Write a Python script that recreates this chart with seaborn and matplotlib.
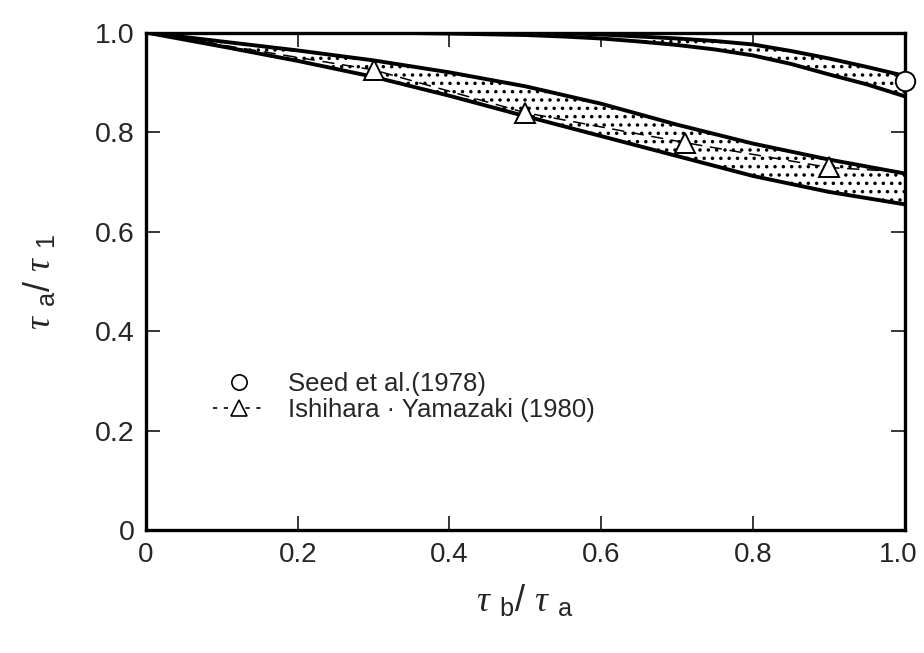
import numpy as np
import pandas as pd
import matplotlib
matplotlib.use("Agg")
import matplotlib.pyplot as plt
import matplotlib.transforms as mtransforms
import seaborn as sns
from matplotlib.lines import Line2D

# ---- data ----
# Seed et al. band (upper band)
seed_x = [0.00, 0.30, 0.40, 0.50, 0.55, 0.60, 0.65, 0.70, 0.75, 0.80, 0.85, 0.90, 0.95, 1.00]
seed_upper = [1.000, 1.000, 1.000, 1.000, 0.999, 0.996, 0.992, 0.988, 0.983, 0.976, 0.963, 0.948, 0.931, 0.913]
seed_lower = [1.000, 1.000, 0.998, 0.995, 0.992, 0.988, 0.982, 0.975, 0.966, 0.954, 0.937, 0.916, 0.896, 0.872]
seed_point_x = [1.0]
seed_point_y = [0.903]

# Ishihara-Yamazaki band (lower band)
ishi_x = [0.0, 0.1, 0.2, 0.3, 0.4, 0.5, 0.6, 0.7, 0.8, 0.9, 1.0]
ishi_upper = [1.000, 0.982, 0.964, 0.944, 0.920, 0.892, 0.857, 0.815, 0.777, 0.745, 0.717]
ishi_lower = [1.000, 0.972, 0.943, 0.911, 0.873, 0.832, 0.792, 0.752, 0.712, 0.680, 0.655]
ishi_line_x = [0.0, 0.3, 0.5, 0.71, 0.9, 1.0]
ishi_line_y = [1.000, 0.925, 0.839, 0.779, 0.729, 0.720]
ishi_tri_x = [0.3, 0.5, 0.71, 0.9]
ishi_tri_y = [0.925, 0.839, 0.779, 0.729]

x_ticks = [0, 0.2, 0.4, 0.6, 0.8, 1.0]
x_tick_labels = ["0", "0.2", "0.4", "0.6", "0.8", "1.0"]
y_ticks = [0, 0.2, 0.4, 0.6, 0.8, 1.0]
y_tick_labels = ["0", "0.2", "0.4", "0.6", "0.8", "1.0"]

sns.set_style("ticks")
plt.rcParams["font.family"] = ["Liberation Sans", "DejaVu Sans"]
plt.rcParams["mathtext.fontset"] = "custom"
plt.rcParams["mathtext.rm"] = "Liberation Sans"
plt.rcParams["mathtext.sf"] = "Liberation Sans"
plt.rcParams["mathtext.it"] = "Liberation Serif:italic"
plt.rcParams["hatch.linewidth"] = 1.3

fig = plt.figure(figsize=(9.24, 6.53), dpi=100)
ax = fig.add_axes([0.158, 0.1876, 0.821, 0.7626])

# bands
for bx, bu, bl in [(seed_x, seed_upper, seed_lower), (ishi_x, ishi_upper, ishi_lower)]:
    ax.fill_between(bx, bl, bu, facecolor="white", edgecolor="black",
                    hatch="..", linewidth=0, zorder=1)
    sns.lineplot(x=bx, y=bu, ax=ax, color="black", linewidth=2.8, zorder=3)
    sns.lineplot(x=bx, y=bl, ax=ax, color="black", linewidth=2.8, zorder=3)

# Ishihara dashed curve and triangles
sns.lineplot(x=ishi_line_x, y=ishi_line_y, ax=ax, color="black", linewidth=1.1,
             linestyle=(0, (8, 5)), zorder=4)
ax.plot(ishi_tri_x, ishi_tri_y, linestyle="none", marker="^", markersize=14,
        markerfacecolor="white", markeredgecolor="black", markeredgewidth=1.4, zorder=5)

# Seed point
ax.plot(seed_point_x, seed_point_y, linestyle="none", marker="o", markersize=14,
        markerfacecolor="white", markeredgecolor="black", markeredgewidth=1.4,
        zorder=6, clip_on=False)

ax.set_xlim(0, 1.0)
ax.set_ylim(0, 1.0)
ax.set_xticks(x_ticks)
ax.set_xticklabels(x_tick_labels)
ax.set_yticks(y_ticks)
ax.set_yticklabels(y_tick_labels)
ax.tick_params(direction="in", length=10, width=1.3, labelsize=20.5,
               top=True, right=True, pad=8)
ax.tick_params(axis="x", labelsize=20)
for s in ax.spines.values():
    s.set_linewidth(2.4)
    s.set_color("black")

# keep the last x tick label inside the canvas
last = ax.get_xticklabels()[-1]
last.set_transform(last.get_transform() +
                   mtransforms.ScaledTranslation(-6 / 100, 0, fig.dpi_scale_trans))

ax.set_xlabel(r"$\tau$ $_{\mathrm{b}}$/ $\tau$ $_{\mathrm{a}}$", fontsize=26, labelpad=12)
ax.set_ylabel(r"$\tau$ $_{\mathrm{a}}$/ $\tau$ $_{\mathrm{1}}$", fontsize=26, labelpad=26)

handles = [
    Line2D([], [], linestyle="none", marker="o", markersize=11,
           markerfacecolor="white", markeredgecolor="black", markeredgewidth=1.2),
    Line2D([], [], linestyle=(0, (2.5, 4)), color="black", linewidth=1.2, marker="^",
           markersize=12, markerfacecolor="white", markeredgecolor="black",
           markeredgewidth=1.2),
]
ax.legend(handles, ["Seed et al.(1978)", "Ishihara \u00b7 Yamazaki (1980)"],
          loc="upper left", bbox_to_anchor=(0.058, 0.365), frameon=False,
          fontsize=18.5, handlelength=2.0, handletextpad=0.9, labelspacing=0.1)

fig.savefig("out.png", dpi=100)
